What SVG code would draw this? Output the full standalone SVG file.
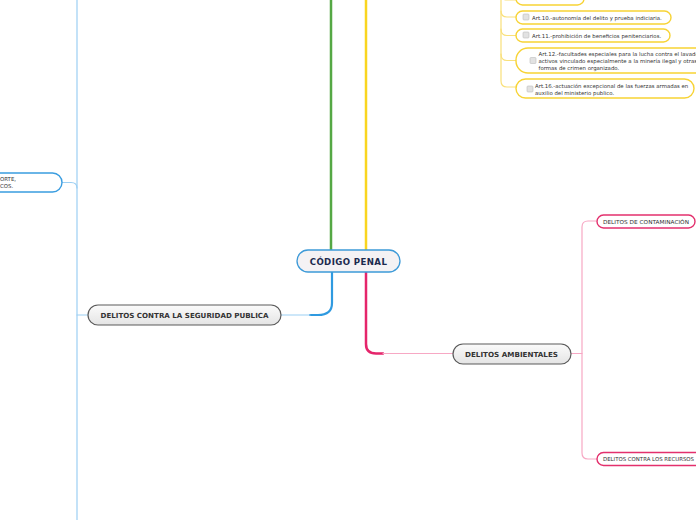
<svg xmlns="http://www.w3.org/2000/svg" width="696" height="520" viewBox="0 0 696 520">
<defs>
<linearGradient id="gray" x1="0" y1="0" x2="0" y2="1">
<stop offset="0" stop-color="#fbfbfb"/>
<stop offset="1" stop-color="#e4e4e4"/>
</linearGradient>
<style>
text{font-family:"DejaVu Sans","Verdana",sans-serif;}
.main{fill:url(#gray);stroke:#5a5a5a;stroke-width:1.2;}
.mt{font-size:7px;font-weight:bold;fill:#333;}
.ynode{fill:#fff;stroke:#f7d335;stroke-width:1.4;}
.pnode{fill:#fff;stroke:#e3306d;stroke-width:1.4;}
.bnode{fill:#fff;stroke:#3a9de0;stroke-width:1.4;}
.st{font-size:5.4px;fill:#333;}
.cb{fill:#e2e2e2;stroke:#bdbdbd;stroke-width:0.6;}
.c{fill:none;stroke-linecap:round;}
</style>
</defs>
<rect width="696" height="520" fill="#fff"/>
<g id="connectors">
<path class="c" d="M331 0 V250" stroke="#55a845" stroke-width="2.5"/>
<path class="c" d="M366 0 V250" stroke="#f9d520" stroke-width="2.5"/>
<path class="c" d="M332 272 V303 Q332 315 318 315 H310" stroke="#2f9ae0" stroke-width="2.2"/>
<path class="c" d="M310 315 H281" stroke="#9ccff3" stroke-width="1.2"/>
<path class="c" d="M366 272 V344 Q366 353.5 376 353.5 H383" stroke="#e5256b" stroke-width="2.5"/>
<path class="c" d="M383 353.5 H453" stroke="#f7a8c4" stroke-width="1.2"/>
<path class="c" d="M77 0 V520" stroke="#9ccff3" stroke-width="1.2"/>
<path class="c" d="M88 315 H77" stroke="#9ccff3" stroke-width="1.2"/>
<path class="c" d="M62 182.5 H71 Q77 182.5 77 188" stroke="#9ccff3" stroke-width="1.2"/>
<path class="c" d="M571 353.5 H582" stroke="#f7a8c4" stroke-width="1.2"/>
<path class="c" d="M596 221 H588 Q582 221 582 227 V453 Q582 459 588 459 H597" stroke="#f7a8c4" stroke-width="1.2"/>
<path class="c" d="M501 0 V81 Q501 87 507 87 H516" stroke="#f9e07a" stroke-width="1.2"/>
<path class="c" d="M501 -7 Q501 0 507 0 H516" stroke="#f9e07a" stroke-width="1.2"/>
<path class="c" d="M501 11 Q501 17 507 17 H516" stroke="#f9e07a" stroke-width="1.2"/>
<path class="c" d="M501 29 Q501 35.5 507 35.5 H516" stroke="#f9e07a" stroke-width="1.2"/>
<path class="c" d="M501 54 Q501 60.5 507 60.5 H516" stroke="#f9e07a" stroke-width="1.2"/>
</g>
<g id="codigo-penal">
<rect x="297" y="250" width="103" height="22" rx="11" fill="#f4f2f4" stroke="#3d9ad8" stroke-width="1.3"/>
<text x="348.5" y="264.5" text-anchor="middle" font-size="8.6" font-weight="bold" fill="#1b2a4e" letter-spacing="0.4">CÓDIGO PENAL</text>
</g>
<g id="seguridad-publica">
<rect class="main" x="88" y="305" width="193" height="20" rx="10"/>
<text class="mt" x="184.5" y="317.5" text-anchor="middle" textLength="168" lengthAdjust="spacingAndGlyphs">DELITOS CONTRA LA SEGURIDAD PUBLICA</text>
</g>
<g id="ambientales">
<rect class="main" x="453" y="344" width="118" height="20" rx="10"/>
<text class="mt" x="511.5" y="356.5" text-anchor="middle" textLength="93" lengthAdjust="spacingAndGlyphs">DELITOS AMBIENTALES</text>
</g>
<g id="transporte">
<rect class="bnode" x="-30" y="173" width="92" height="19" rx="9.5"/>
<text class="st" x="0" y="181">ORTE,</text>
<text class="st" x="0" y="187.5">COS.</text>
</g>
<g id="contaminacion">
<rect class="pnode" x="597" y="215" width="98" height="13" rx="6.5"/>
<text class="st" x="603" y="223.5" textLength="86" lengthAdjust="spacingAndGlyphs">DELITOS DE CONTAMINACIÓN</text>
</g>
<g id="recursos">
<rect class="pnode" x="597" y="452.5" width="120" height="13" rx="6.5"/>
<text class="st" x="603" y="461">DELITOS CONTRA LOS RECURSOS</text>
</g>
<g id="art9">
<rect class="ynode" x="516" y="-8" width="68" height="13" rx="6.5"/>
</g>
<g id="art10">
<rect class="ynode" x="516" y="11" width="155" height="13" rx="6.5"/>
<rect class="cb" x="523" y="14" width="6" height="6" rx="1"/>
<text class="st" x="532" y="19.5">Art.10.-autonomía del delito y prueba indiciaria.</text>
</g>
<g id="art11">
<rect class="ynode" x="516" y="29" width="154" height="13" rx="6.5"/>
<rect class="cb" x="523" y="32" width="6" height="6" rx="1"/>
<text class="st" x="532" y="37.5">Art.11.-prohibición de beneficios penitenciarios.</text>
</g>
<g id="art12">
<rect class="ynode" x="516" y="48" width="200" height="25" rx="12"/>
<rect class="cb" x="530" y="57.5" width="6" height="6" rx="1"/>
<text class="st" x="538.5" y="55.5">Art.12.-facultades especiales para la lucha contra el lavado de</text>
<text class="st" x="538.5" y="62.5">activos vinculado especialmente a la minería ilegal y otras</text>
<text class="st" x="538.5" y="69.5">formas de crimen organizado.</text>
</g>
<g id="art16">
<rect class="ynode" x="516" y="79" width="178" height="19" rx="9.5"/>
<rect class="cb" x="527" y="86" width="6" height="6" rx="1"/>
<text class="st" x="535" y="87.5">Art.16.-actuación excepcional de las fuerzas armadas en</text>
<text class="st" x="535" y="94.5">auxilio del ministerio publico.</text>
</g>
</svg>
